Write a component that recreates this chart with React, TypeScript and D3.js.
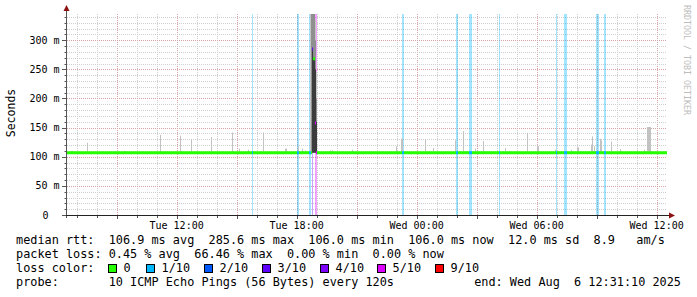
import React from "react";
import * as d3 from "d3";

// ---- data ----
const startTime = new Date(2025, 7, 5, 6, 31, 10);
const endTime = new Date(2025, 7, 6, 12, 31, 10);
const stepSeconds = 180;
const stepCount = 600;

const yMax = 0.345;
const medianBase = 0.1069;
// steps (180 s each from start) where the median differs from the baseline
const medianOverrideSteps = [243, 244, 245, 246, 247, 248, 249];
const medianOverrideValues = [0.107, 0.107, 0.285, 0.268, 0.268, 0.158, 0.107];

// loss events: first step, number of steps, loss (of 10 pings)
const lossStart = [185, 230, 242, 245, 248, 335, 389, 402, 432, 489, 497, 529, 537];
const lossWidth = [1, 2, 2, 1, 2, 2, 2, 3, 1, 1, 3, 3, 2];
const lossLevel = [1, 1, 1, 3, 5, 1, 1, 1, 1, 1, 1, 1, 1];

// isolated smoke spikes: step and highest ping (seconds)
const spikeSteps = [5, 20, 50, 57, 93, 113, 124, 144, 165, 172, 181, 196, 218, 219, 231, 235, 238, 263, 265, 285, 304, 329, 334, 335, 358, 366, 388, 396, 408, 416, 438, 460, 470, 471, 488, 504, 510, 511, 524, 525, 527, 533, 534, 544, 553, 570, 577, 580, 581, 582, 583];
const spikeValues = [0.110, 0.124, 0.111, 0.110, 0.1377, 0.136, 0.130, 0.134, 0.1417, 0.114, 0.112, 0.1417, 0.114, 0.114, 0.118, 0.114, 0.111, 0.111, 0.111, 0.112, 0.110, 0.118, 0.131, 0.131, 0.130, 0.115, 0.128, 0.144, 0.114, 0.127, 0.115, 0.141, 0.118, 0.118, 0.112, 0.112, 0.116, 0.116, 0.121, 0.135, 0.118, 0.131, 0.128, 0.126, 0.113, 0.112, 0.112, 0.151, 0.151, 0.151, 0.151];

// the outage burst: smoke layers per step (outer light, middle, inner dark)
const burstSteps = [243, 244, 245, 246, 247, 248, 249];
const burstOuterHigh = [0.345, 0.345, 0.345, 0.345, 0.345, 0.335, 0.245];
const burstMidHigh = [0.0, 0.345, 0.345, 0.345, 0.345, 0.30, 0.20];
const burstInnerHigh = [0.0, 0.0, 0.285, 0.27, 0.27, 0.25, 0.16];

const lossColors = ["#26ff00", "#00b8ff", "#0059ff", "#5e00ff", "#7e00ff", "#dd00ff", "#ff0000"];
const lossLabels = ["0", "1/10", "2/10", "3/10", "4/10", "5/10", "9/10"];
const lossLevelsForColor = [0, 1, 2, 3, 4, 5, 9];

const legendLine1 = "median rtt:  106.9 ms avg  285.6 ms max  106.0 ms min  106.0 ms now  12.0 ms sd  8.9   am/s";
const legendLine2 = "packet loss: 0.45 % avg  66.46 % max  0.00 % min  0.00 % now";
const legendLine3 = "loss color:";
const legendLine4 = "probe:       10 ICMP Echo Pings (56 Bytes) every 120s";
const legendEnd = "end: Wed Aug  6 12:31:10 2025";

const colorForLoss = (l: number) => {
  let idx = 0;
  for (let i = 0; i < lossLevelsForColor.length; i++) if (l >= lossLevelsForColor[i]) idx = i;
  return lossColors[idx];
};

export default function App() {
  const W = 697, H = 297;
  const x0 = 67, x1 = 667, yTop = 14, yBot = 215;
  const x = d3.scaleTime().domain([startTime, endTime]).range([x0, x1]);
  const y = d3.scaleLinear().domain([0, yMax]).range([yBot, yTop]);
  const tStep = (i: number) => new Date(startTime.getTime() + i * stepSeconds * 1000);
  const xs = (i: number) => x(tStep(i));

  const mono = "'DejaVu Sans Mono', monospace";
  const hours = d3.timeHour.range(startTime, endTime);
  const minorY = d3.range(0, yMax + 1e-9, 0.01);
  const majorY = d3.range(0, yMax + 1e-9, 0.05);
  const fmt = d3.timeFormat("%a %H:%M");
  const isMajor = (v: number) => majorY.some(m => Math.abs(m - v) < 1e-9);

  const median: number[] = new Array(stepCount).fill(medianBase);
  medianOverrideSteps.forEach((s, i) => (median[s] = medianOverrideValues[i]));
  const loss: number[] = new Array(stepCount).fill(0);
  lossStart.forEach((s, i) => {
    for (let k = 0; k < lossWidth[i]; k++) loss[s + k] = lossLevel[i];
  });

  const runs: { a: number; b: number; v: number; c: string }[] = [];
  for (let i = 0; i < stepCount; i++) {
    const c = colorForLoss(loss[i]);
    const last = runs[runs.length - 1];
    if (last && last.c === c && last.v === median[i] && last.b === i) last.b = i + 1;
    else runs.push({ a: i, b: i + 1, v: median[i], c });
  }

  const bar = (key: string, s: number, hi: number, fill: string) =>
    hi > 0 ? <rect key={key} x={xs(s)} y={y(hi)} width={xs(s + 1) - xs(s)} height={y(medianBase) - y(hi)} fill={fill} /> : null;

  return (
    <svg width={W} height={H} style={{ position: "fixed", left: 0, top: 0, background: "#fff" }} xmlns="http://www.w3.org/2000/svg">
      <rect x={0} y={0} width={W} height={H} fill="#ffffff" />
      {hours.map((h, i) => (
        <line key={"vg" + i} x1={Math.round(x(h)) + 0.5} x2={Math.round(x(h)) + 0.5} y1={yTop} y2={yBot}
          stroke={h.getHours() % 3 === 0 ? "#dba4a4" : "#cfcfcf"} strokeDasharray="1,1" />
      ))}
      {minorY.map((v, i) => (i === 0 ? null :
        <line key={"hg" + i} x1={x0} x2={x1} y1={Math.round(y(v)) + 0.5} y2={Math.round(y(v)) + 0.5}
          stroke={isMajor(v) ? "#dba4a4" : "#cfcfcf"} strokeDasharray="1,1" />
      ))}
      {lossStart.map((s, i) => (
        <rect key={"lb" + i} x={xs(s)} y={yTop} width={xs(s + lossWidth[i]) - xs(s)} height={yBot - yTop}
          fill={colorForLoss(lossLevel[i])} fillOpacity={0.36} />
      ))}
      {spikeSteps.map((s, i) => bar("sp" + i, s, spikeValues[i], "#c2c2c2"))}
      {burstSteps.map((s, i) => bar("bo" + i, s, burstOuterHigh[i], "#c4c4c4"))}
      {burstSteps.map((s, i) => bar("bm" + i, s, burstMidHigh[i], "#8f8f8f"))}
      {burstSteps.map((s, i) => bar("bi" + i, s, burstInnerHigh[i], "#3c3c3c"))}
      {runs.map((r, i) => (
        <line key={"m" + i} x1={xs(r.a)} x2={xs(r.b)} y1={y(r.v)} y2={y(r.v)} stroke={r.c} strokeWidth={3} />
      ))}
      <line x1={66.5} x2={66.5} y1={yBot + 3} y2={8} stroke="#555" />
      <line x1={62} x2={671} y1={yBot + 0.5} y2={yBot + 0.5} stroke="#222" />
      <path d={`M63.5,11 L69.5,11 L66.5,5 Z`} fill="#8b1010" />
      <path d={`M669,212.5 L669,218.5 L675,215.5 Z`} fill="#8b1010" />
      {minorY.map((v, i) => (
        <line key={"yt" + i} x1={isMajor(v) ? 62 : 64.5} x2={66} y1={Math.round(y(v)) + 0.5} y2={Math.round(y(v)) + 0.5} stroke="#555" />
      ))}
      {hours.map((h, i) => (
        <line key={"xt" + i} x1={Math.round(x(h)) + 0.5} x2={Math.round(x(h)) + 0.5} y1={yBot + 1} y2={yBot + (h.getHours() % 3 === 0 ? 4 : 3)} stroke="#555" />
      ))}
      {majorY.map((v, i) => (
        <text key={"yl" + i} x={v === 0 ? 48.5 : 59.5} y={y(v) + 3.6} textAnchor="end" fontFamily={mono} fontSize={10} fill="#000">
          {v === 0 ? "0" : `${Math.round(v * 1000)} m`}
        </text>
      ))}
      {hours.filter(h => h.getHours() % 6 === 0).map((h, i) => (
        <text key={"xl" + i} x={x(h)} y={228.5} textAnchor="middle" fontFamily={mono} fontSize={10} fill="#000">{fmt(h)}</text>
      ))}
      <text transform="translate(15,113) rotate(-90)" textAnchor="middle" fontFamily={mono} fontSize={11.5} fill="#000">Seconds</text>
      <text transform="translate(684,5) rotate(90)" fontFamily={mono} fontSize={8.3} fill="#bdbdbd">RRDTOOL / TOBI OETIKER</text>
      <g fontFamily={mono} fontSize={11.85} fill="#000" style={{ whiteSpace: "pre" }}>
        <text x={16} y={244} xmlSpace="preserve">{legendLine1}</text>
        <text x={16} y={258} xmlSpace="preserve">{legendLine2}</text>
        <text x={16} y={272} xmlSpace="preserve">{legendLine3}</text>
        {lossLabels.map((lab, i) => {
          const bx = [108, 146, 204, 262, 320, 377, 435][i];
          return (
            <g key={"lg" + i}>
              <rect x={bx + 0.5} y={264.5} width={8} height={8} fill={lossColors[i]} stroke="#000" />
              <text x={bx + 15.5} y={272}>{lab}</text>
            </g>
          );
        })}
        <text x={16} y={286} xmlSpace="preserve">{legendLine4}</text>
        <text x={681} y={286} textAnchor="end" xmlSpace="preserve">{legendEnd}</text>
      </g>
    </svg>
  );
}
